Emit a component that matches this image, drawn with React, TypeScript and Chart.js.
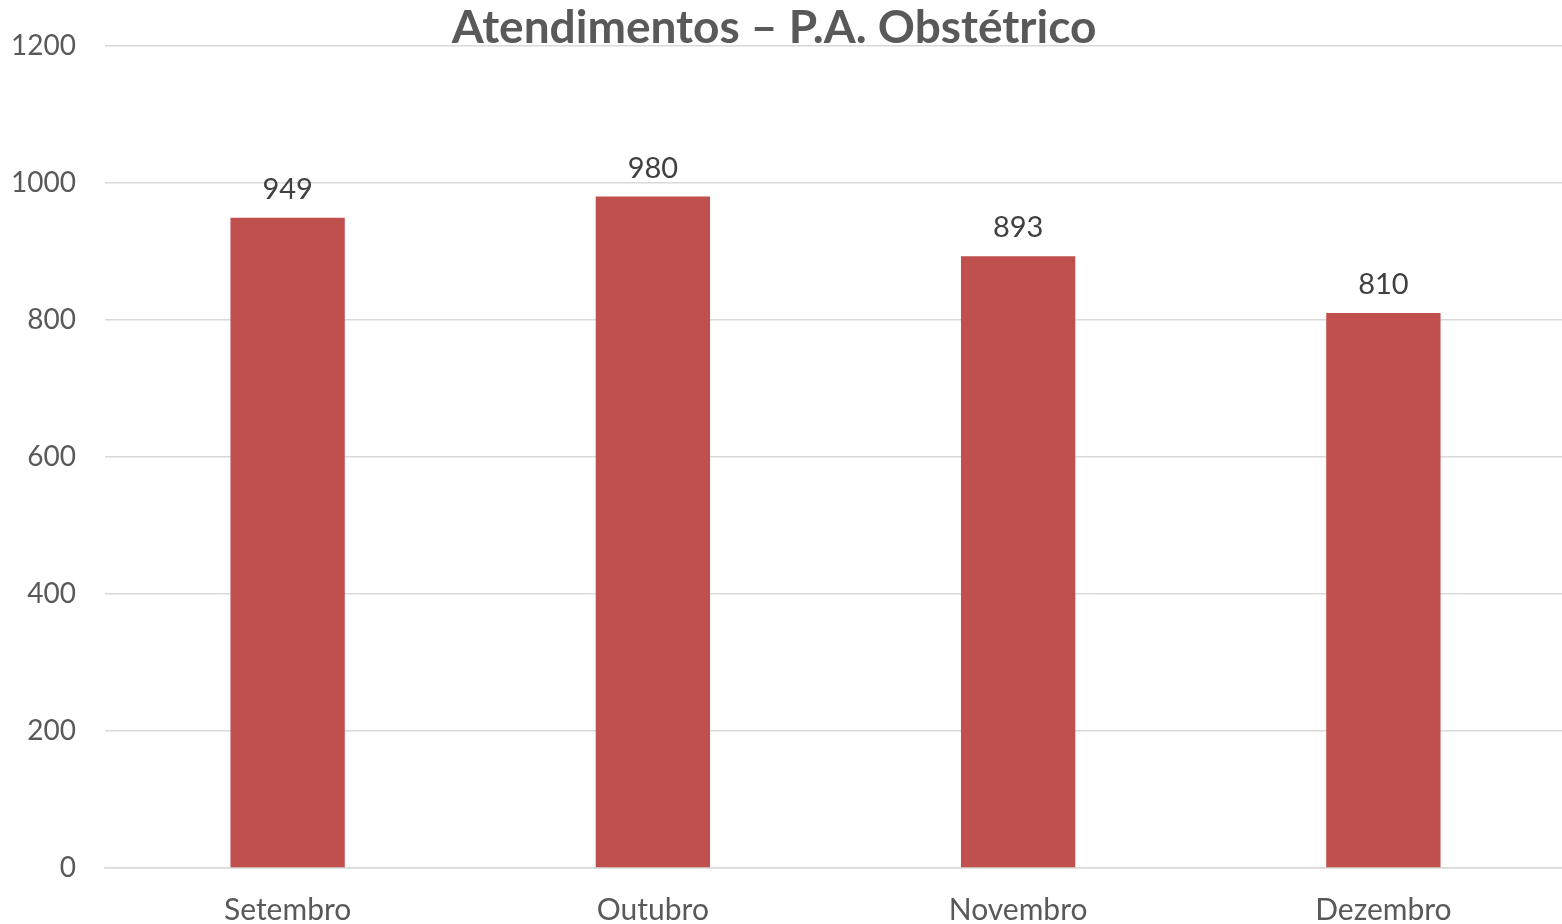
import React, { useEffect, useRef } from "react";
import { Chart, registerables } from "chart.js";

Chart.register(...registerables);

const categories = ["Setembro", "Outubro", "Novembro", "Dezembro"];
const values = [949, 980, 893, 810];
const titleText = "Atendimentos – P.A. Obstétrico";
const yTicks = [0, 200, 400, 600, 800, 1000, 1200];

const FONT = "Lato, 'Open Sans', sans-serif";

const titlePlugin = {
  id: "customTitle",
  afterDraw(chart: any) {
    const ctx = chart.ctx;
    ctx.save();
    ctx.font = `bold 46px ${FONT}`;
    ctx.fillStyle = "#595959";
    ctx.textAlign = "center";
    ctx.textBaseline = "alphabetic";
    ctx.fillText(titleText, 774, 43);
    ctx.restore();
  },
};

const labelPlugin = {
  id: "barLabels",
  afterDatasetsDraw(chart: any) {
    const ctx = chart.ctx;
    const meta = chart.getDatasetMeta(0);
    ctx.save();
    ctx.font = `29px ${FONT}`;
    ctx.fillStyle = "#404040";
    ctx.textAlign = "center";
    ctx.textBaseline = "alphabetic";
    meta.data.forEach((bar: any, i: number) => {
      ctx.fillText(String(values[i]), bar.x, bar.y - 19);
    });
    ctx.restore();
  },
};

export default function App() {
  const ref = useRef<HTMLCanvasElement>(null);
  useEffect(() => {
    if (!ref.current) return;
    const chart = new Chart(ref.current, {
      type: "bar",
      data: {
        labels: categories,
        datasets: [
          {
            data: values,
            backgroundColor: "#c0504d",
            barPercentage: 0.313,
            categoryPercentage: 1,
          },
        ],
      },
      options: {
        animation: false,
        responsive: false,
        maintainAspectRatio: false,
        layout: { padding: { top: 45, right: 0, left: 0, bottom: 0 } },
        plugins: {
          legend: { display: false },
          title: { display: false },
          tooltip: { enabled: false },
        },
        scales: {
          x: {
            grid: { display: false, drawTicks: false },
            border: { display: true, color: "#d9d9d9", width: 1.5 },
            ticks: {
              color: "#595959",
              font: { family: FONT, size: 30 },
              padding: 24,
            },
            afterFit(scale: any) {
              scale.height = 56;
            },
          },
          y: {
            min: 0,
            max: 1200,
            afterBuildTicks(scale: any) {
              scale.ticks = yTicks.map((v) => ({ value: v }));
            },
            grid: { color: "#d9d9d9", lineWidth: 1.5, drawTicks: false },
            border: { display: false },
            ticks: {
              color: "#595959",
              font: { family: FONT, size: 28 },
              padding: 29,
              callback: (v: any) => String(v),
            },
            afterFit(scale: any) {
              scale.width = 105;
            },
          },
        },
      },
      plugins: [titlePlugin, labelPlugin],
    });
    return () => chart.destroy();
  }, []);
  return (
    <div
      style={{
        position: "fixed",
        left: 0,
        top: 0,
        width: 1562,
        height: 924,
        overflow: "hidden",
        background: "#fff",
      }}
    >
      <canvas ref={ref} width={1566} height={924} style={{ display: "block" }} />
    </div>
  );
}
